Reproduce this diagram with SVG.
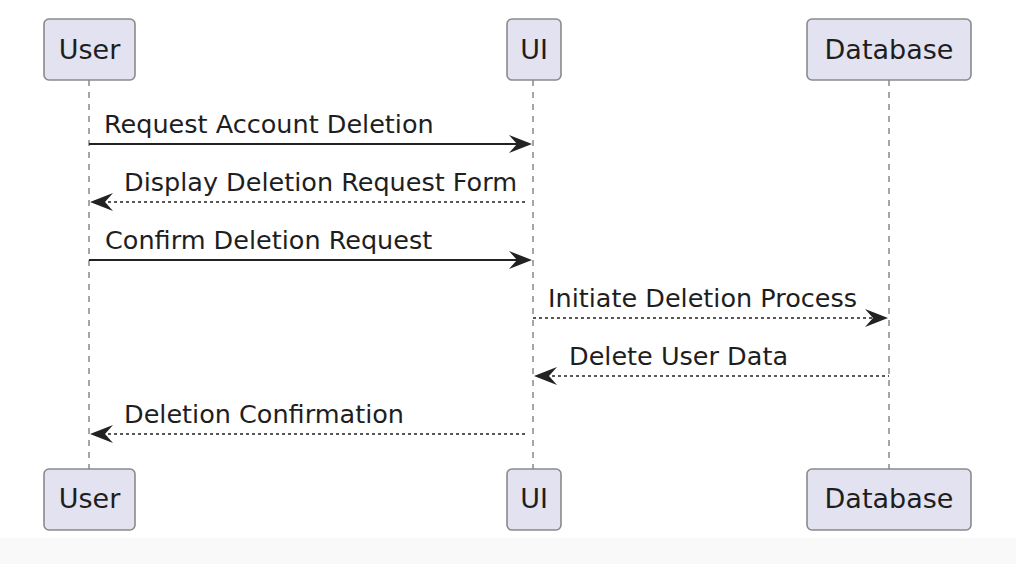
<svg xmlns="http://www.w3.org/2000/svg" width="1016" height="564" viewBox="0 0 1016 564">
<defs>
<style>
.box{fill:#E2E2F0;stroke:#8a8a8a;stroke-width:1.6}
.pt{font-family:"DejaVu Sans",sans-serif;font-size:27px;fill:#1e1e1e;text-anchor:middle}
.mt{font-family:"DejaVu Sans",sans-serif;font-size:25.5px;fill:#1e1e1e}
.life{stroke:#777;stroke-width:1.3;stroke-dasharray:6,6;fill:none}
.sync{stroke:#222;stroke-width:2;fill:none}
.ret{stroke:#222;stroke-width:1.7;stroke-dasharray:3,3;fill:none}
.head{fill:#222}
</style>
</defs>
<rect x="0" y="0" width="1016" height="564" fill="#ffffff"/>
<rect x="0" y="538" width="1016" height="26" fill="#f9f9f9"/>
<g id="lifelines">
<line class="life" x1="89" y1="80" x2="89" y2="469"/>
<line class="life" x1="533" y1="80" x2="533" y2="469"/>
<line class="life" x1="889" y1="80" x2="889" y2="469"/>
</g>
<g id="user-top"><rect class="box" x="44" y="19" width="91" height="61" rx="5"/><text class="pt" x="89.5" y="59">User</text></g>
<g id="ui-top"><rect class="box" x="507" y="19" width="54" height="61" rx="5"/><text class="pt" x="534" y="59">UI</text></g>
<g id="db-top"><rect class="box" x="807" y="19" width="164" height="61" rx="5"/><text class="pt" x="889" y="59">Database</text></g>
<g id="user-bottom"><rect class="box" x="44" y="469" width="91" height="61" rx="5"/><text class="pt" x="89.5" y="508">User</text></g>
<g id="ui-bottom"><rect class="box" x="507" y="469" width="54" height="61" rx="5"/><text class="pt" x="534" y="508">UI</text></g>
<g id="db-bottom"><rect class="box" x="807" y="469" width="164" height="61" rx="5"/><text class="pt" x="889" y="508">Database</text></g>
<g id="connectors">
<line class="sync" x1="89" y1="144" x2="526" y2="144"/>
<polygon class="head" points="532,144 509,135 517,144 509,153"/>
<text class="mt" x="104" y="133">Request Account Deletion</text>

<line class="ret" x1="96" y1="202" x2="527" y2="202"/>
<polygon class="head" points="90,202 113,193 105,202 113,211"/>
<text class="mt" x="124" y="191">Display Deletion Request Form</text>

<line class="sync" x1="89" y1="260" x2="526" y2="260"/>
<polygon class="head" points="532,260 509,251 517,260 509,269"/>
<text class="mt" x="105" y="249">Confirm Deletion Request</text>

<line class="ret" x1="533" y1="318" x2="882" y2="318"/>
<polygon class="head" points="888,318 865,309 873,318 865,327"/>
<text class="mt" x="548" y="307">Initiate Deletion Process</text>

<line class="ret" x1="540" y1="376" x2="889" y2="376"/>
<polygon class="head" points="534,376 557,367 549,376 557,385"/>
<text class="mt" x="569" y="365">Delete User Data</text>

<line class="ret" x1="96" y1="434" x2="527" y2="434"/>
<polygon class="head" points="90,434 113,425 105,434 113,443"/>
<text class="mt" x="124" y="423">Deletion Confirmation</text>
</g>
</svg>
